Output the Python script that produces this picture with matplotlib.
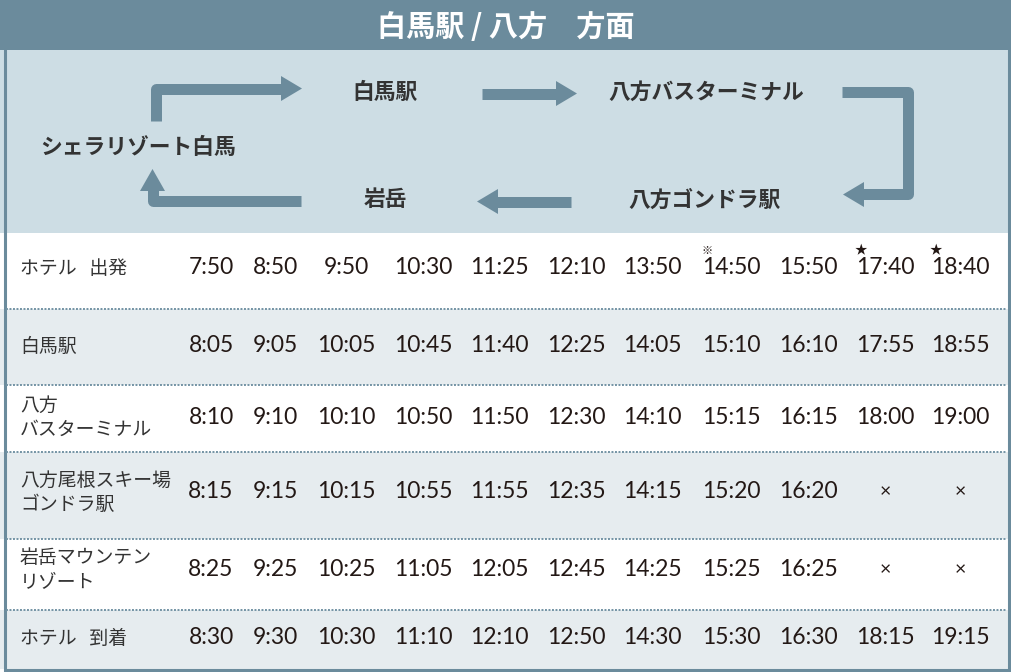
import matplotlib
matplotlib.use('Agg')
import matplotlib.pyplot as plt
from matplotlib.patches import Rectangle, Polygon

plt.rcParams['font.family'] = ['Noto Sans CJK JP', 'DejaVu Sans']

# ---- data ----
title = '白馬駅 / 八方\u3000方面'
route_names = ['白馬駅', '八方バスターミナル', 'シェラリゾート白馬', '岩岳', '八方ゴンドラ駅']
stops = ['ホテル   出発', '白馬駅', '八方\nバスターミナル',
         '八方尾根スキー場\nゴンドラ駅', '岩岳マウンテン\nリゾート', 'ホテル   到着']
times = [
    ['7:50', '8:50', '9:50', '10:30', '11:25', '12:10', '13:50', '14:50', '15:50', '17:40', '18:40'],
    ['8:05', '9:05', '10:05', '10:45', '11:40', '12:25', '14:05', '15:10', '16:10', '17:55', '18:55'],
    ['8:10', '9:10', '10:10', '10:50', '11:50', '12:30', '14:10', '15:15', '16:15', '18:00', '19:00'],
    ['8:15', '9:15', '10:15', '10:55', '11:55', '12:35', '14:15', '15:20', '16:20', '×', '×'],
    ['8:25', '9:25', '10:25', '11:05', '12:05', '12:45', '14:25', '15:25', '16:25', '×', '×'],
    ['8:30', '9:30', '10:30', '11:10', '12:10', '12:50', '14:30', '15:30', '16:30', '18:15', '19:15'],
]
first_marks = ['', '', '', '', '', '', '', '※', '', '★', '★']

# ---- layout ----
W, H = 1011, 672
c_dark = '#6b8b9c'
c_light = '#cddde4'
c_gray = '#e6ecef'
c_txt = '#231815'

col_x = [211, 275, 346, 423, 499, 576, 652, 731, 808, 885, 960]
row_edges = [233, 309, 385, 452, 539, 610, 669]
row_y = [268, 346, 417, 492, 570, 638]
name_pos = [(385, 92), (706, 92), (138, 147), (385, 200), (705, 200)]

fig = plt.figure(figsize=(W / 100, H / 100), dpi=100)
ax = fig.add_axes([0, 0, 1, 1])
ax.set_xlim(0, W)
ax.set_ylim(H, 0)
ax.axis('off')

# header + diagram background
ax.add_patch(Rectangle((0, 0), W, 50, color=c_dark, lw=0))
ax.add_patch(Rectangle((0, 50), W, row_edges[0] - 50, color=c_light, lw=0))
ax.text(W / 2, 27, title, color='white', fontsize=21, fontweight='bold',
        ha='center', va='center')

for name, (x, y) in zip(route_names, name_pos):
    ax.text(x, y, name, color='#333333', fontsize=15.7, fontweight='bold',
            ha='center', va='center')

# arrows: (path, head triangle)
lw_arrow = 11 * 72 / 100
arrows = [
    ([(155.5, 121), (155.5, 88.5), (282, 88.5)], [(281, 76), (302, 88.5), (281, 101)]),
    ([(482, 93.5), (557, 93.5)], [(556, 81), (577, 93.5), (556, 106)]),
    ([(842, 91.5), (908, 91.5), (908, 194), (863, 194)], [(864, 182), (843, 194.5), (864, 207)]),
    ([(571, 201.5), (497, 201.5)], [(498, 189), (477, 201.5), (498, 214)]),
    ([(301, 201), (152.5, 201), (152.5, 190)], [(140, 191), (152.5, 169), (165, 191)]),
]
for path, head in arrows:
    xs = [p[0] for p in path]
    ys = [p[1] for p in path]
    ax.plot(xs, ys, color=c_dark, lw=lw_arrow, solid_joinstyle='round',
            solid_capstyle='butt')
    ax.add_patch(Polygon(head, closed=True, color=c_dark, lw=0))

# table rows
for i in range(len(stops)):
    top, bot = row_edges[i], row_edges[i + 1]
    fc = 'white' if i % 2 == 0 else c_gray
    ax.add_patch(Rectangle((0, top), W, bot - top, color=fc, lw=0))
    ax.text(20, row_y[i], stops[i], color='#333333', fontsize=13.6,
            ha='left', va='center', linespacing=1.2)
    for j, t in enumerate(times[i]):
        small = (t == '×')
        ax.text(col_x[j], row_y[i], t, color=c_txt, fontsize=14 if small else 16.5,
                ha='center', va='center', family=['Lato', 'DejaVu Sans'])
    if i > 0:
        ax.plot([6, 1007], [top, top], color='#7393a4', lw=1.4,
                linestyle=(0, (1, 0.8)), solid_capstyle='butt')

for j, m in enumerate(first_marks):
    if m:
        ax.text(col_x[j] - 24, 251, m, color=c_txt, fontsize=9 if m == '★' else 8,
                ha='center', va='center')

# frame
ax.add_patch(Rectangle((4.5, 1), 1004, 668.5, fill=False, ec=c_dark, lw=2.2))

fig.savefig('out.png', dpi=100, facecolor='white')
